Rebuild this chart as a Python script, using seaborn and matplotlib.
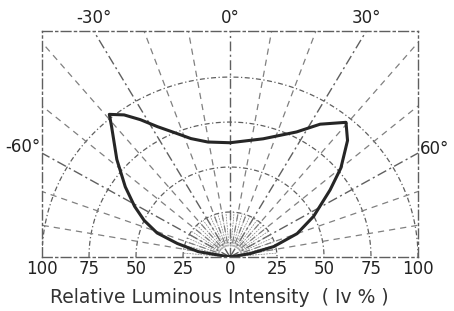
import numpy as np
import pandas as pd
import matplotlib
matplotlib.use("Agg")
import matplotlib.pyplot as plt
import seaborn as sns

# Radiation pattern (angle from axis in degrees, relative intensity %)
angle_deg = [-90, -80, -75, -71, -66, -61, -55, -48, -41, -39, -35.5, -32, -28, -23, -17.5,
             -10.5, 0, 15, 27, 33, 39.5, 44, 50, 55, 63, 70, 76, 80, 90]
intensity = [0, 17, 29, 41, 50, 58, 68, 81, 96, 102, 97, 90, 82, 75, 69,
             65, 63.5, 68, 78, 88, 97, 90, 77, 65, 50, 38, 24, 11, 0]

# Grid and labels
ring_values = [25, 50, 75, 100]
spoke_angles = list(range(-80, 90, 10))
inner_angles = list(range(-85, 90, 5))
angle_labels = ["-30°", "0°", "30°"]
angle_label_pos = [-30, 0, 30]
tick_pos = [-100, -75, -50, -25, 0, 25, 50, 75, 100]
tick_labels = ["100", "75", "50", "25", "0", "25", "50", "75", "100"]

sns.set_style("white")
plt.rcParams['font.family'] = ['DejaVu Sans']

grid_col = "#5f5f5f"
light_col = "#808080"
dashdot = (0, (7, 2.5, 1.5, 2.5))
dashed = (0, (5, 4))
ymax = 125.6

fig = plt.figure(figsize=(4.54, 3.11), dpi=100)
ax = fig.add_axes([42 / 454, 54 / 311, 376 / 454, 226 / 311])
ax.set_xlim(-100, 100)
ax.set_ylim(0, ymax)

# rings
t = np.radians(np.linspace(-90, 90, 200))
for r in ring_values:
    ax.plot(r * np.sin(t), r * np.cos(t), color=grid_col, lw=0.9, ls=(0, (4, 2, 1, 2)))

# spokes out to the box edge, every 30 deg a dash-dot line, the rest dashed
for a in spoke_angles:
    s, c = np.sin(np.radians(a)), np.cos(np.radians(a))
    lengths = [100 / abs(s) if abs(s) > 1e-9 else np.inf, ymax / c if c > 1e-9 else np.inf]
    L = min(lengths)
    if a % 30 == 0:
        ax.plot([0, L * s], [0, L * c], color=grid_col, lw=1.0, ls=dashdot)
    else:
        ax.plot([8 * s, L * s], [8 * c, L * c], color=light_col, lw=0.9, ls=dashed)

# dense fan near the origin
for a in inner_angles:
    s, c = np.sin(np.radians(a)), np.cos(np.radians(a))
    ax.plot([6 * s, 25 * s], [6 * c, 25 * c], color=light_col, lw=0.5, ls=(0, (2.5, 1.5)))

# the pattern itself
rad = np.radians(angle_deg)
curve = pd.DataFrame({
    "x": np.array(intensity) * np.sin(rad),
    "y": np.array(intensity) * np.cos(rad),
})
sns.lineplot(data=curve, x="x", y="y", sort=False, estimator=None,
             color="#262626", lw=2.2, ax=ax)

# box
for side in ["left", "right", "top", "bottom"]:
    ax.spines[side].set_color(grid_col)
    ax.spines[side].set_linewidth(1.0)
    ax.spines[side].set_linestyle(dashdot)
    ax.spines[side].set_visible(True)

ax.set_yticks([])
ax.set_xticks(tick_pos)
ax.set_xticklabels(tick_labels, fontsize=12, color="#222222")
ax.tick_params(axis="x", length=0, pad=2)
ax.set_xlabel("Relative Luminous Intensity  ( Iv % )", fontsize=13.5, color="#333333", labelpad=6)
ax.xaxis.set_label_coords(0.471, -0.135)
ax.set_ylabel("")

# angle labels
for lab, a in zip(angle_labels, angle_label_pos):
    ax.text(ymax * np.tan(np.radians(a)), ymax + 7, lab, ha="center", va="center",
            fontsize=12, color="#222222", clip_on=False)
ax.text(-101, 61, "-60°", ha="right", va="center", fontsize=12, color="#222222", clip_on=False)
ax.text(101, 60, "60°", ha="left", va="center", fontsize=12, color="#222222", clip_on=False)

fig.savefig("out.png", dpi=100)
